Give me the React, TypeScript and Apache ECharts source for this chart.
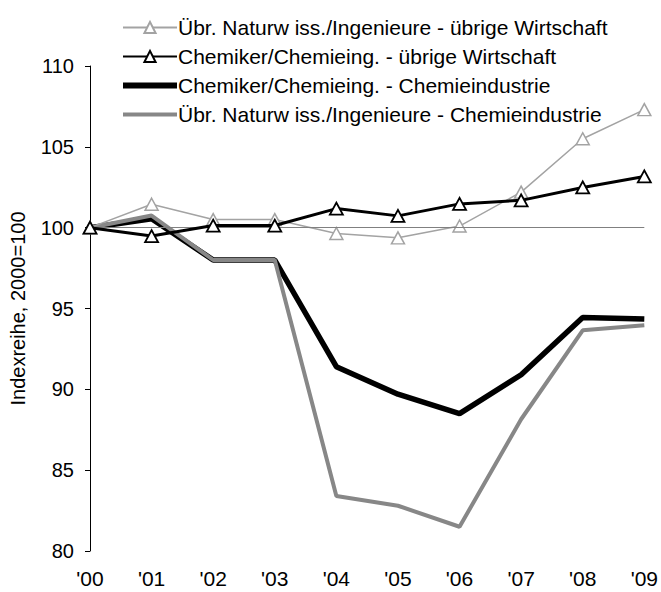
import React, { useEffect, useRef } from "react";
import * as echarts from "echarts";

const categories = ["'00", "'01", "'02", "'03", "'04", "'05", "'06", "'07", "'08", "'09"];
const seriesNames = [
  "Übr. Naturw iss./Ingenieure - übrige Wirtschaft",
  "Chemiker/Chemieing. - übrige Wirtschaft",
  "Chemiker/Chemieing. - Chemieindustrie",
  "Übr. Naturw iss./Ingenieure - Chemieindustrie",
];
const naturUebrig = [100, 101.45, 100.5, 100.5, 99.64, 99.37, 100.1, 102.2, 105.5, 107.3];
const chemUebrig = [100, 99.48, 100.13, 100.13, 101.18, 100.73, 101.47, 101.69, 102.49, 103.17];
const chemChemie = [100, 100.55, 98.0, 98.0, 91.4, 89.7, 88.5, 90.9, 94.45, 94.35];
const naturChemie = [100, 100.75, 98.0, 98.0, 83.4, 82.8, 81.5, 88.15, 93.65, 93.97];
const yTicks = [80, 85, 90, 95, 100, 105, 110];

const FONT = "Liberation Sans, Arial, sans-serif";
const LIGHT = "#a3a3a3";
const MID = "#878787";

export default function App() {
  const ref = useRef<HTMLDivElement>(null);
  useEffect(() => {
    if (!ref.current) return;
    const chart = echarts.init(ref.current, undefined, { renderer: "svg" });
    chart.setOption({
      animation: false,
      backgroundColor: "#ffffff",
      textStyle: { fontFamily: FONT },
      grid: { left: 90, right: 16, top: 66, bottom: 41, containLabel: false },
      legend: {
        orient: "vertical",
        left: 117,
        top: 12,
        itemWidth: 54,
        itemHeight: 14,
        itemGap: 8,
        data: [
          { name: seriesNames[0] },
          { name: seriesNames[1] },
          { name: seriesNames[2], icon: "path://M0 0H54V6H0Z", itemStyle: { color: "#000" } },
          { name: seriesNames[3], icon: "path://M0 0H54V4H0Z", itemStyle: { color: MID } },
        ],
        textStyle: { fontSize: 21, lineHeight: 20, color: "#000", fontFamily: FONT, padding: [0, 0, 0, -4] },
      },
      xAxis: {
        type: "category",
        data: categories,
        boundaryGap: false,
        axisLine: { show: false },
        axisTick: { show: false },
        axisLabel: { fontSize: 21, color: "#000", margin: 17, fontFamily: FONT },
        splitLine: { show: false },
      },
      yAxis: {
        type: "value",
        min: yTicks[0],
        max: yTicks[yTicks.length - 1],
        interval: 5,
        name: "Indexreihe, 2000=100",
        nameLocation: "middle",
        nameGap: 62,
        nameTextStyle: { fontSize: 20, color: "#000", fontFamily: FONT },
        axisLine: { show: true, lineStyle: { color: "#000", width: 1 } },
        axisTick: { show: true, inside: false, length: 5, lineStyle: { color: "#000" } },
        axisLabel: { fontSize: 20, color: "#000", margin: 16, fontFamily: FONT },
        splitLine: { show: false },
      },
      series: [
        {
          name: seriesNames[2],
          type: "line",
          data: chemChemie,
          symbol: "none",
          lineStyle: { color: "#000", width: 5.5 },
          itemStyle: { color: "#000" },
          z: 2,
          markLine: {
            silent: true,
            symbol: "none",
            label: { show: false },
            lineStyle: { color: "#808080", width: 1, type: "solid" },
            data: [{ yAxis: 100 }],
          },
        },
        {
          name: seriesNames[3],
          type: "line",
          data: naturChemie,
          symbol: "none",
          lineStyle: { color: MID, width: 4 },
          itemStyle: { color: MID },
          z: 3,
        },
        {
          name: seriesNames[0],
          type: "line",
          data: naturUebrig,
          symbol: "triangle",
          symbolSize: [13, 12],
          showAllSymbol: true,
          lineStyle: { color: LIGHT, width: 1.5 },
          itemStyle: { color: "#ffffff", borderColor: LIGHT, borderWidth: 1.5 },
          z: 4,
        },
        {
          name: seriesNames[1],
          type: "line",
          data: chemUebrig,
          symbol: "triangle",
          symbolSize: [13, 12],
          showAllSymbol: true,
          lineStyle: { color: "#000", width: 3 },
          itemStyle: { color: "#ffffff", borderColor: "#000", borderWidth: 1.8 },
          z: 5,
        },
      ],
    });
    return () => chart.dispose();
  }, []);
  return <div ref={ref} style={{ width: 661, height: 592, position: "absolute", left: 0, top: 0 }} />;
}
